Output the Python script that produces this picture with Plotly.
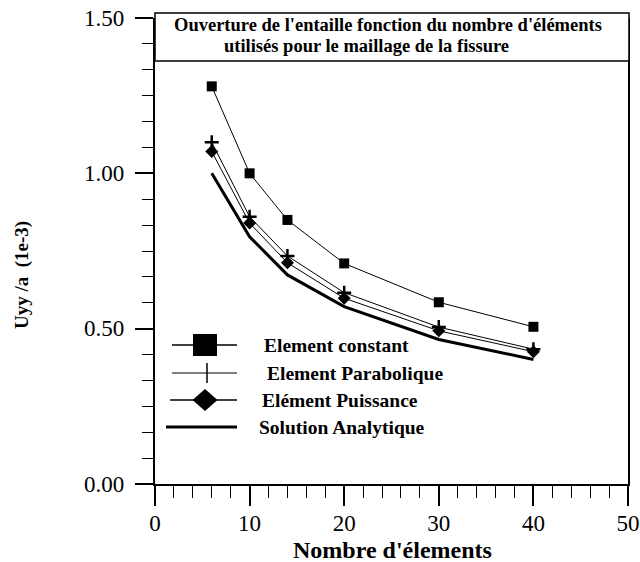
import plotly.graph_objects as go

# ---- data ----
nb_elements = [6, 10, 14, 20, 30, 40]
element_constant = [1.28, 1.00, 0.85, 0.71, 0.585, 0.506]
element_parabolique = [1.10, 0.86, 0.734, 0.616, 0.505, 0.434]
element_puissance = [1.07, 0.84, 0.712, 0.598, 0.493, 0.426]
solution_analytique = [1.00, 0.796, 0.673, 0.571, 0.465, 0.401]

series_names = ["Element constant", "Element Parabolique", "Elément Puissance", "Solution Analytique"]
x_ticks = [0, 10, 20, 30, 40, 50]
y_ticks = [0.0, 0.5, 1.0, 1.5]
y_tick_text = ["0.00", "0.50", "1.00", "1.50"]
title_lines = ["Ouverture de l'entaille fonction du nombre d'éléments",
               "utilisés pour le maillage de la fissure"]

W, H = 640, 562
L, R, T, B = 155, 628, 18, 484  # plot area in pixels


def px(x):
    return (x - L) / (R - L)


def py(y):
    return (B - y) / (B - T)


SERIF = "Liberation Serif, Times New Roman, serif"

fig = go.Figure()
fig.add_trace(go.Scatter(x=nb_elements, y=element_constant, mode="lines+markers", name=series_names[0],
                         line=dict(color="black", width=1),
                         marker=dict(symbol="square", size=10, color="black")))
fig.add_trace(go.Scatter(x=nb_elements, y=element_parabolique, mode="lines+markers", name=series_names[1],
                         line=dict(color="black", width=1),
                         marker=dict(symbol="cross-thin", size=10, color="black",
                                     line=dict(color="black", width=2.5))))
fig.add_trace(go.Scatter(x=nb_elements, y=element_puissance, mode="lines+markers", name=series_names[2],
                         line=dict(color="black", width=1),
                         marker=dict(symbol="diamond", size=10, color="black")))
fig.add_trace(go.Scatter(x=nb_elements, y=solution_analytique, mode="lines", name=series_names[3],
                         line=dict(color="black", width=3)))

shapes = []
annotations = []

# title box
shapes.append(dict(type="rect", xref="paper", yref="paper", x0=px(155), x1=px(629), y0=py(61), y1=py(13),
                   line=dict(color="black", width=1.5), fillcolor="white", layer="above"))
annotations.append(dict(xref="paper", yref="paper", x=px(388), y=py(25), text=title_lines[0], showarrow=False,
                        xanchor="center", yanchor="middle",
                        font=dict(family=SERIF, size=18.5, color="black", weight="bold")))
annotations.append(dict(xref="paper", yref="paper", x=px(366), y=py(46), text=title_lines[1], showarrow=False,
                        xanchor="center", yanchor="middle",
                        font=dict(family=SERIF, size=18.5, color="black", weight="bold")))

# legend (drawn manually)
rows = [345, 373, 400, 427]
text_x = [262, 265, 260, 257]
# row 1: line + big square
shapes.append(dict(type="line", xref="paper", yref="paper", x0=px(172), x1=px(237), y0=py(rows[0]), y1=py(rows[0]),
                   line=dict(color="black", width=1.5)))
shapes.append(dict(type="rect", xref="paper", yref="paper", x0=px(193), x1=px(217), y0=py(rows[0] + 11),
                   y1=py(rows[0] - 11), line=dict(color="black", width=0), fillcolor="black"))
# row 2: thin line + vertical tick
shapes.append(dict(type="line", xref="paper", yref="paper", x0=px(172), x1=px(237), y0=py(rows[1]), y1=py(rows[1]),
                   line=dict(color="black", width=1)))
shapes.append(dict(type="line", xref="paper", yref="paper", x0=px(207), x1=px(207), y0=py(rows[1] - 10),
                   y1=py(rows[1] + 10), line=dict(color="black", width=1.5)))
# row 3: line + diamond
shapes.append(dict(type="line", xref="paper", yref="paper", x0=px(170), x1=px(237), y0=py(rows[2]), y1=py(rows[2]),
                   line=dict(color="black", width=1.5)))
cx, cy = px(205), py(rows[2])
dx, dy = 12.5 / (R - L), 11 / (B - T)
shapes.append(dict(type="path", xref="paper", yref="paper",
                   path=f"M {cx - dx} {cy} L {cx} {cy + dy} L {cx + dx} {cy} L {cx} {cy - dy} Z",
                   line=dict(color="black", width=0), fillcolor="black"))
# row 4: thick line
shapes.append(dict(type="line", xref="paper", yref="paper", x0=px(166), x1=px(237), y0=py(rows[3]), y1=py(rows[3]),
                   line=dict(color="black", width=3)))
for i, name in enumerate(series_names):
    annotations.append(dict(xref="paper", yref="paper", x=px(text_x[i]), y=py(rows[i]), text=name,
                            showarrow=False, xanchor="left", yanchor="middle",
                            font=dict(family=SERIF, size=19.5, color="black", weight="bold")))

# y tick labels (placed as annotations for precise offset)
for v, t in zip(y_ticks, y_tick_text):
    annotations.append(dict(xref="paper", yref="y", x=px(126), y=v, text=t, showarrow=False,
                            xanchor="right", yanchor="middle",
                            font=dict(family=SERIF, size=23, color="black")))

# axis titles
annotations.append(dict(xref="paper", yref="paper", x=px(392), y=py(550), text="Nombre d'élements",
                        showarrow=False, xanchor="center", yanchor="middle",
                        font=dict(family=SERIF, size=24, color="black", weight="bold")))
annotations.append(dict(xref="paper", yref="paper", x=px(22), y=py(275), text="Uyy /a  (1e-3)",
                        showarrow=False, xanchor="center", yanchor="middle", textangle=-90,
                        font=dict(family=SERIF, size=19, color="black", weight="bold")))

fig.update_layout(
    width=W, height=H,
    margin=dict(l=L, r=W - R, t=T, b=H - B, pad=0, autoexpand=False),
    paper_bgcolor="white", plot_bgcolor="white",
    showlegend=False,
    shapes=shapes, annotations=annotations,
    font=dict(family=SERIF, color="black"),
)
fig.update_xaxes(range=[0, 50], tickvals=x_ticks, ticks="outside", ticklen=20, tickwidth=1.5, tickcolor="black",
                 showline=True, linecolor="black", linewidth=1.5, mirror=False, showgrid=False, zeroline=False,
                 automargin=False, ticklabelstandoff=-2,
                 tickfont=dict(family=SERIF, size=23, color="black"),
                 minor=dict(dtick=2, tick0=0, ticks="outside", ticklen=12, tickwidth=1, tickcolor="black",
                            showgrid=False))
fig.update_yaxes(range=[0, 1.5], tickvals=y_ticks, showticklabels=False, ticks="outside", ticklen=18,
                 tickwidth=1.5, tickcolor="black", automargin=False,
                 showline=True, linecolor="black", linewidth=1.5, mirror=True, showgrid=False, zeroline=False,
                 minor=dict(dtick=0.5 / 6, tick0=0, ticks="outside", ticklen=11, tickwidth=1, tickcolor="black",
                            showgrid=False))

fig.write_html("out.html")
